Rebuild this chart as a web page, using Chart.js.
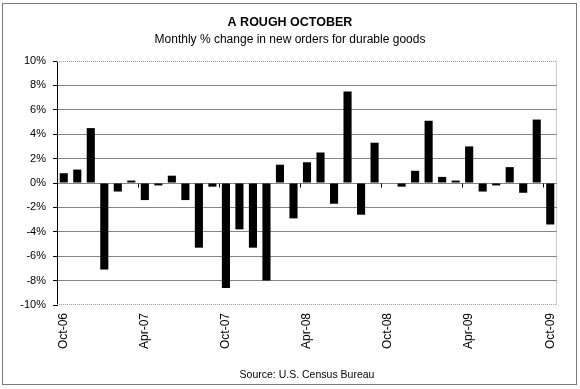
<!DOCTYPE html>
<html><head><meta charset="utf-8">
<script src="https://cdn.jsdelivr.net/npm/chart.js@4.4.0/dist/chart.umd.min.js"></script>
<style>html,body{margin:0;padding:0;background:#fff}#wrap{width:580px;height:389px;position:relative}canvas{display:block}</style>
</head><body><div id="wrap"><canvas id="c" width="580" height="389"></canvas></div>
<script>
const months = ['Oct-06','Nov-06','Dec-06','Jan-07','Feb-07','Mar-07','Apr-07','May-07','Jun-07','Jul-07','Aug-07','Sep-07',
  'Oct-07','Nov-07','Dec-07','Jan-08','Feb-08','Mar-08','Apr-08','May-08','Jun-08','Jul-08','Aug-08','Sep-08',
  'Oct-08','Nov-08','Dec-08','Jan-09','Feb-09','Mar-09','Apr-09','May-09','Jun-09','Jul-09','Aug-09','Sep-09','Oct-09'];
const changes = [0.8, 1.1, 4.5, -7.1, -0.7, 0.2, -1.4, -0.2, 0.6, -1.4, -5.3, -0.3,
  -8.6, -3.8, -5.3, -8.0, 1.5, -2.9, 1.7, 2.5, -1.7, 7.5, -2.6, 3.3,
  0.0, -0.3, 1.0, 5.1, 0.5, 0.2, 3.0, -0.7, -0.2, 1.3, -0.8, 5.2, -3.4];
const xTickLabels = ['Oct-06','Apr-07','Oct-07','Apr-08','Oct-08','Apr-09','Oct-09'];
const yTickValues = [-10, -8, -6, -4, -2, 0, 2, 4, 6, 8, 10];
const titleText = 'A ROUGH OCTOBER';
const subtitleText = 'Monthly % change in new orders for durable goods';
const sourceText = 'Source: U.S. Census Bureau';

const FONT = "'Liberation Sans', Arial, sans-serif";

const decor = {
  id: 'decor',
  afterDraw(chart) {
    const ctx = chart.ctx, a = chart.chartArea;
    const x = chart.scales.x, y = chart.scales.y;
    ctx.save();
    ctx.strokeStyle = '#9a9a9a';
    ctx.lineWidth = 1;
    ctx.setLineDash([1, 1]);
    const yt = Math.round(y.getPixelForValue(y.max)) + 0.5;
    const yb = Math.round(y.getPixelForValue(y.min)) - 0.5;
    const xr = Math.round(a.right) - 0.5;
    ctx.beginPath();
    ctx.moveTo(a.left, yt); ctx.lineTo(xr, yt);
    ctx.moveTo(xr, yt); ctx.lineTo(xr, yb);
    ctx.moveTo(a.left, yb); ctx.lineTo(xr, yb);
    ctx.stroke();
    ctx.strokeStyle = '#7a7a7a';
    ctx.setLineDash([]);
    ctx.strokeRect(2.5, 3.5, 574, 381);
    const y0 = Math.round(y.getPixelForValue(0)) + 0.5;
    ctx.strokeStyle = '#000';
    ctx.beginPath();
    xTickLabels.forEach(l => {
      const i = months.indexOf(l);
      if (i > 0) {
        const px = Math.round((x.getPixelForValue(i - 1) + x.getPixelForValue(i)) / 2) + 0.5;
        ctx.moveTo(px, y0); ctx.lineTo(px, y0 + 4);
      }
    });
    ctx.stroke();
    ctx.restore();
  }
};

new Chart(document.getElementById('c'), {
  type: 'bar',
  data: {
    labels: months,
    datasets: [{
      data: changes,
      backgroundColor: '#000',
      borderWidth: 0,
      barPercentage: 0.6,
      categoryPercentage: 1.0
    }]
  },
  options: {
    responsive: false,
    devicePixelRatio: 1,
    animation: false,
    layout: { padding: { left: 0, right: 0, top: 0, bottom: 0 } },
    plugins: {
      legend: { display: false },
      tooltip: { enabled: false },
      title: {
        display: true, text: titleText, color: '#000',
        font: { family: FONT, size: 12.5, weight: 'bold', lineHeight: 1.2 },
        padding: { top: 15, bottom: 0 }
      },
      subtitle: {
        display: true, text: subtitleText, color: '#000',
        font: { family: FONT, size: 12, weight: 'normal', lineHeight: 1.2 },
        padding: { top: 2.3, bottom: 14.3 }
      }
    },
    scales: {
      x: {
        offset: true,
        grid: { display: false, drawTicks: false },
        border: { display: false },
        ticks: {
          autoSkip: false, minRotation: 90, maxRotation: 90, padding: 8, color: '#000',
          font: { family: FONT, size: 12 },
          callback: function (v, i) { const l = months[i]; return xTickLabels.includes(l) ? l : ''; }
        },
        title: {
          display: true, text: sourceText, color: '#000',
          font: { family: FONT, size: 10.5, lineHeight: 1.2 },
          padding: { top: 0, bottom: 7.4 }
        },
        afterFit: s => { s.height = 84; }
      },
      y: {
        min: -10, max: 10,
        afterBuildTicks: s => { s.ticks = yTickValues.map(v => ({ value: v })); },
        ticks: {
          color: '#000', padding: 7,
          font: { family: FONT, size: 11 },
          callback: v => v + '%'
        },
        grid: {
          color: c => (c.tick && Math.abs(c.tick.value) === 10) ? 'rgba(0,0,0,0)' : '#858585',
          tickColor: '#000', tickLength: 4, lineWidth: 1
        },
        border: { color: '#000', width: 1 },
        afterFit: s => { s.width = 57; }
      },
      yRight: {
        position: 'right',
        min: -10, max: 10,
        ticks: { display: false },
        grid: { display: false, drawTicks: false },
        border: { display: false },
        afterFit: s => { s.width = 23; }
      }
    }
  },
  plugins: [decor]
});
</script>
</body></html>
